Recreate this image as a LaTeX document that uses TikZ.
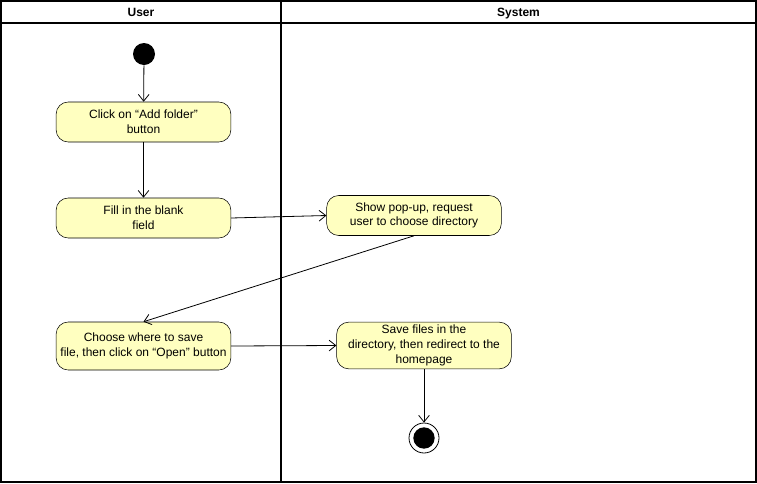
\documentclass[tikz,border=0pt]{standalone}
\usepackage{fontspec}
\setmainfont{Liberation Sans}
\usepackage{xcolor}
\usepackage{tikz}
\usetikzlibrary{arrows.meta,positioning}
\definecolor{actfill}{HTML}{FFFFC0}

\begin{document}
\begin{tikzpicture}[
  x=0.75pt,y=-0.75pt,
  act/.style={draw,rounded corners=9pt,align=center,minimum width=131pt,
              minimum height=30pt,fill=actfill,font=\fontsize{9}{11}\selectfont,inner sep=1pt},
  arrow/.style={-{Straight Barb[length=5pt,width=8pt]},semithick},
  lane/.style={font=\bfseries\fontsize{9}{11}\selectfont,anchor=base,inner sep=0pt}
]
\useasboundingbox (0,0) rectangle (757,483);
% swimlanes
\draw[thick] (1,1) rectangle (756,482);
\draw[thick] (1,23) -- (756,23);
\draw[thick] (281,1) -- (281,482);
\node[lane] (user) at (141,16) {User};
\node[lane] (system) at (518.5,16) {System};

% user lane
\node[circle,fill=black,minimum size=16.5pt,inner sep=0pt] (start) at (144,54) {};
\node[act] (click) at (143.5,122) {Click on “Add folder”\\button};
\node[act] (fill) at (143.5,218) {Fill in the blank\\field};
\node[act,minimum height=36pt] (choose) at (143.5,346) {Choose where to save\\file, then click on “Open” button};

% system lane
\node[act] (popup) at (414,215.5) {Show pop-up, request\\user to choose directory};
\node[act,minimum height=35pt] (save) at (424,345.5) {Save files in the\\directory, then redirect to the\\homepage};
\node[circle,draw,semithick,fill=white,minimum size=22.5pt,inner sep=0pt] (end) at (424,438) {};
\node[circle,fill=black,minimum size=16pt,inner sep=0pt] (endin) at (end) {};

\draw[arrow] (start) -- (click);
\draw[arrow] (click) -- (fill);
\draw[arrow] (fill.east) -- (popup.west);
\draw[arrow] (popup.south) -- (choose.north);
\draw[arrow] (choose.east) -- (save.west);
\draw[arrow] (save) -- (end);
\end{tikzpicture}
\end{document}
